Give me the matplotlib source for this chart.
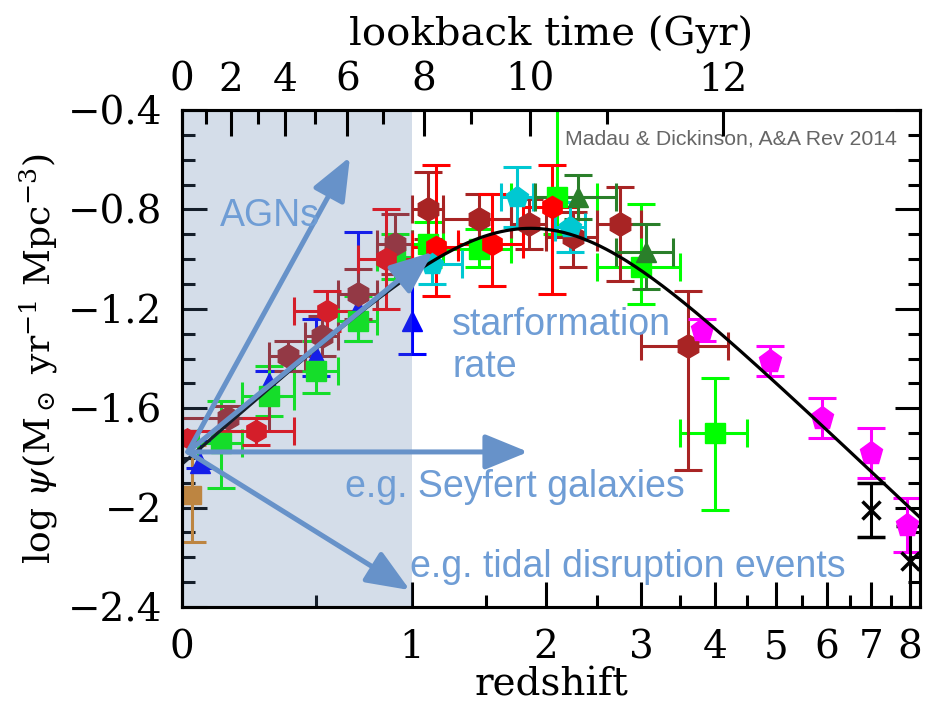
import numpy as np
import matplotlib
matplotlib.use("Agg")
import matplotlib.pyplot as plt
from matplotlib.ticker import FixedLocator, MultipleLocator, FuncFormatter, NullFormatter

plt.rcParams['font.family'] = 'DejaVu Serif'
plt.rcParams['mathtext.fontset'] = 'dejavuserif'

# ---------------- data: log SFR density (Msun/yr/Mpc^3) vs redshift ----------------
# Gruppioni et al. 2013 (far-IR), dark red hexagons
grp_z   = [0.15, 0.375, 0.525, 0.70, 0.90, 1.10, 1.45, 1.85, 2.25, 2.75, 3.60]
grp_zlo = [0.00, 0.30, 0.45, 0.60, 0.80, 1.00, 1.20, 1.70, 2.00, 2.50, 3.00]
grp_zhi = [0.30, 0.45, 0.60, 0.80, 1.00, 1.20, 1.70, 2.00, 2.50, 3.00, 4.20]
grp_psi = [-1.64, -1.39, -1.31, -1.14, -0.94, -0.80, -0.84, -0.86, -0.91, -0.86, -1.35]
grp_elo = [0.05, 0.06, 0.08, 0.10, 0.12, 0.12, 0.10, 0.10, 0.12, 0.23, 0.50]
grp_ehi = [0.05, 0.06, 0.08, 0.10, 0.12, 0.15, 0.10, 0.10, 0.10, 0.15, 0.22]

# Magnelli et al. (IR), red hexagons
mag_z   = [0.25, 0.55, 0.85, 1.15, 1.55, 2.05]
mag_zlo = [0.00, 0.40, 0.70, 1.00, 1.30, 1.80]
mag_zhi = [0.40, 0.70, 1.00, 1.30, 1.80, 2.30]
mag_psi = [-1.69, -1.21, -1.00, -0.95, -0.94, -0.79]
mag_elo = [0.06, 0.08, 0.20, 0.20, 0.17, 0.35]
mag_ehi = [0.05, 0.08, 0.20, 0.33, 0.20, 0.17]

# Local IR points
sand_z, sand_psi = [0.02], [-1.72]
tak_z, tak_psi, tak_elo, tak_ehi = [0.03], [-1.95], [0.19], [0.20]
red0_z, red0_psi = [0.015], [-1.72]

# Wyder 2005 + Schiminovich 2005 (UV), blue triangles
sch_z   = [0.055, 0.30, 0.50, 0.70, 1.00]
sch_psi = [-1.82, -1.50, -1.39, -1.20, -1.25]
sch_elo = [0.02, 0.05, 0.08, 0.13, 0.13]
sch_ehi = [0.09, 0.05, 0.15, 0.31, 0.25]

# Cucciati et al. 2012 (UV), green squares
cuc_z   = [0.125, 0.30, 0.50, 0.70, 0.90, 1.10, 1.45, 2.10, 3.00, 4.00]
cuc_zlo = [0.05, 0.20, 0.40, 0.60, 0.80, 1.00, 1.20, 1.70, 2.50, 3.50]
cuc_zhi = [0.20, 0.40, 0.60, 0.80, 1.00, 1.20, 1.70, 2.50, 3.50, 4.50]
cuc_psi = [-1.74, -1.55, -1.45, -1.25, -0.99, -0.94, -0.96, -0.75, -1.03, -1.70]
cuc_elo = [0.18, 0.08, 0.09, 0.08, 0.09, 0.09, 0.07, 0.15, 0.15, 0.31]
cuc_ehi = [0.17, 0.12, 0.12, 0.10, 0.09, 0.09, 0.08, 0.45, 0.25, 0.22]

# Dahlen et al. 2007 (UV), cyan pentagons
dah_z   = [1.125, 1.75, 2.225]
dah_zlo = [0.92, 1.62, 2.08]
dah_zhi = [1.33, 1.88, 2.37]
dah_psi = [-1.02, -0.75, -0.87]
dah_elo = [0.08, 0.12, 0.10]
dah_ehi = [0.08, 0.12, 0.10]

# Reddy & Steidel 2009 (UV), dark green triangles
rs_z   = [2.30, 3.05]
rs_zlo = [1.90, 2.70]
rs_zhi = [2.70, 3.40]
rs_psi = [-0.75, -0.97]
rs_elo = [0.09, 0.15]
rs_ehi = [0.09, 0.11]

# Bouwens et al. 2012 (UV), magenta pentagons
bou_z   = [3.8, 4.9, 5.9, 7.0, 7.9]
bou_psi = [-1.285, -1.41, -1.64, -1.78, -2.07]
bou_err = [0.045, 0.06, 0.08, 0.10, 0.11]

# Schenker et al. 2013 (UV), black crosses
sck_z   = [7.0, 8.0]
sck_psi = [-2.01, -2.215]
sck_elo = [0.11, 0.20]
sck_ehi = [0.11, 0.14]

# Best-fit cosmic SFR density: psi0 (1+z)^a / (1 + ((1+z)/zp1)^b)
fit_psi0, fit_a, fit_zp1, fit_b = 0.015, 2.7, 2.9, 5.6

# Cosmology for the lookback-time axis
H0, Om, OL = 70.0, 0.3, 0.7
t_major = [0, 2, 4, 6, 8, 10, 12]
t_minor = [1, 3, 5, 7, 9, 11, 13]

z_ticks = [0, 1, 2, 3, 4, 5, 6, 7, 8]
z_minor = [0.5, 1.5, 2.5, 3.5, 4.5, 5.5, 6.5, 7.5]

# ---------------- figure ----------------
def fwd(z):
    z = np.asarray(z, dtype=float)
    return np.log10(np.clip(1.0 + z, 1e-9, None))

def inv(u):
    return 10.0 ** np.asarray(u, dtype=float) - 1.0

W, H = 936, 704
fig = plt.figure(figsize=(W / 100, H / 100), dpi=100)
ax = fig.add_axes([182 / W, 1 - 607 / H, 738 / W, 497 / H])
ax.set_xscale('function', functions=(fwd, inv))
zmax = 8.27
ax.set_xlim(0, zmax)
ax.set_ylim(-2.4, -0.4)

EB = dict(elinewidth=2.2, capthick=2.2, capsize=10, linestyle='none')


def plot_set(z, psi, elo, ehi, color, marker, ms, zlo=None, zhi=None, zorder=3, **kw):
    z = np.asarray(z, dtype=float)
    xerr = None
    if zlo is not None:
        xerr = [z - np.asarray(zlo), np.asarray(zhi) - z]
    ax.errorbar(z, psi, yerr=[elo, ehi], xerr=xerr, marker=marker, ms=ms,
                color=color, mfc=color, mec=color, zorder=zorder, **EB, **kw)


plot_set(tak_z, tak_psi, tak_elo, tak_ehi, '#e0891e', 's', 13)
ax.plot(sand_z, sand_psi, 's', color='#b4602e', ms=12, zorder=3)
plot_set(sch_z, sch_psi, sch_elo, sch_ehi, '#0000ff', '^', 14)
plot_set(cuc_z, cuc_psi, cuc_elo, cuc_ehi, '#00ff00', 's', 15, cuc_zlo, cuc_zhi)
plot_set(grp_z, grp_psi, grp_elo, grp_ehi, '#a82424', 'h', 17, grp_zlo, grp_zhi)
plot_set(mag_z, mag_psi, mag_elo, mag_ehi, '#ff0000', 'h', 16, mag_zlo, mag_zhi)
ax.plot(red0_z, red0_psi, 'h', color='#ff0000', ms=14, zorder=3)
plot_set(dah_z, dah_psi, dah_elo, dah_ehi, '#00c8d2', 'p', 16, dah_zlo, dah_zhi)
plot_set(rs_z, rs_psi, rs_elo, rs_ehi, '#2a7f2a', '^', 14, rs_zlo, rs_zhi)
plot_set(bou_z, bou_psi, bou_err, bou_err, '#ff00ff', 'p', 17)
plot_set(sck_z, sck_psi, sck_elo, sck_ehi, 'black', 'x', 13, mew=2.5)

zc = np.linspace(0, zmax, 600)
psi_fit = np.log10(fit_psi0 * (1 + zc) ** fit_a / (1 + ((1 + zc) / fit_zp1) ** fit_b))
ax.plot(zc, psi_fit, color='black', lw=2.3, zorder=4)

# shaded low-redshift band
ax.axvspan(0, 1, color=(87 / 255, 123 / 255, 171 / 255), alpha=0.25, lw=0, zorder=5)

# ---------------- axes styling ----------------
for s in ax.spines.values():
    s.set_linewidth(2.2)
    s.set_zorder(8)

ax.xaxis.set_major_locator(FixedLocator(z_ticks))
ax.xaxis.set_minor_locator(FixedLocator(z_minor))
ax.xaxis.set_major_formatter(FuncFormatter(lambda v, p: f'{v:g}'))
ax.xaxis.set_minor_formatter(NullFormatter())
ax.yaxis.set_major_locator(MultipleLocator(0.4))
ax.yaxis.set_minor_locator(MultipleLocator(0.1))
ax.yaxis.set_major_formatter(FuncFormatter(lambda v, p: f'{v:g}'.replace('-', '\u2212')))

ax.tick_params(which='major', direction='in', length=18, width=2.2, labelsize=28,
               top=False, right=True, color='black')
ax.tick_params(which='minor', direction='in', length=9, width=2.2,
               top=False, right=True)
ax.tick_params(axis='x', which='major', pad=16)
ax.tick_params(axis='y', which='major', pad=14)

ax.set_xlabel('redshift', fontsize=28, labelpad=0)
ax.set_ylabel(r'log $\psi$(M$_\odot$ yr$^{-1}$ Mpc$^{-3}$)', fontsize=26, labelpad=6)

# lookback time along the top
zg = np.linspace(0, 12, 6001)
integrand = 1.0 / ((1 + zg) * np.sqrt(Om * (1 + zg) ** 3 + OL))
tl = (977.8 / H0) * np.concatenate([[0.0], np.cumsum(0.5 * (integrand[1:] + integrand[:-1]) * np.diff(zg))])
t_max = np.interp(zmax, zg, tl)

top = ax.twiny()
top.set_xscale('function', functions=(fwd, inv))
top.set_xlim(0, zmax)
tmaj = [t for t in t_major if t <= t_max]
tmin = [t for t in t_minor if t <= t_max]
top.xaxis.set_major_locator(FixedLocator(np.interp(tmaj, tl, zg)))
top.xaxis.set_minor_locator(FixedLocator(np.interp(tmin, tl, zg)))
top.set_xticklabels([str(t) for t in tmaj])
top.xaxis.set_minor_formatter(NullFormatter())
top.tick_params(which='major', direction='in', length=19, width=2.2, labelsize=28, pad=8)
top.tick_params(which='minor', direction='in', length=10, width=2.2)
top.set_xlabel('lookback time (Gyr)', fontsize=29, labelpad=12)
for s in top.spines.values():
    s.set_linewidth(2.2)

# ---------------- overlay: arrows and notes ----------------
acol = '#6792c9'
tcol = '#6f9dd5'
origin = (0.018, -1.776)
tips = [(0.66, -0.589), (1.133, -0.971), (1.842, -1.776), (0.989, -2.332)]
for tip in tips:
    ax.annotate('', xy=tip, xytext=origin,
                arrowprops=dict(arrowstyle='-|>,head_length=1.1,head_width=0.45',
                                mutation_scale=24, lw=3.6, color=acol,
                                shrinkA=0, shrinkB=0),
                annotation_clip=False, zorder=6)

tkw = dict(transform=ax.transAxes, fontsize=27, color=tcol, family='Liberation Sans',
           ha='left', va='baseline', zorder=7)
ax.text(0.0515, 0.7666, 'AGNs', **tkw)
ax.text(0.366, 0.5473, 'starformation', **tkw)
ax.text(0.366, 0.4628, 'rate', **tkw)
ax.text(0.2209, 0.2213, 'e.g. Seyfert galaxies', **tkw)
ax.text(0.309, 0.0604, 'e.g. tidal disruption events', **tkw)
ax.text(0.519, 0.9296, 'Madau & Dickinson, A&A Rev 2014', transform=ax.transAxes,
        fontsize=15.3, color='#666666', family='Liberation Sans', ha='left',
        va='baseline', zorder=7)

fig.savefig('out.png', dpi=100)
